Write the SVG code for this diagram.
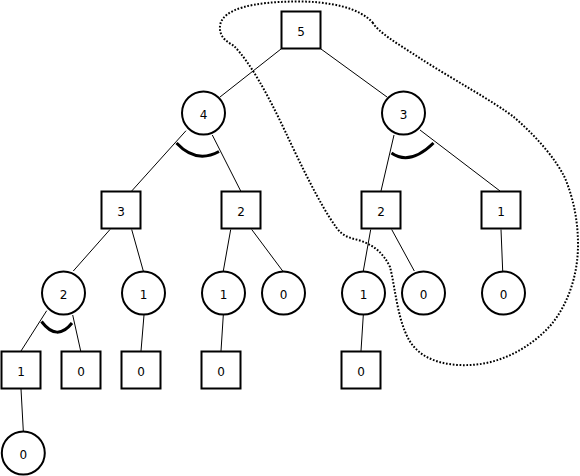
<svg xmlns="http://www.w3.org/2000/svg" width="580" height="476" viewBox="0 0 580 476">
<style>
.sq{fill:#fff;stroke:#000;stroke-width:2}
.ci{fill:#fff;stroke:#000;stroke-width:2}
.t{font-family:"DejaVu Sans",sans-serif;font-size:12px;text-anchor:middle;fill:#000}
.e{stroke:#000;stroke-width:1;fill:none}
.arc{stroke:#000;stroke-width:3;fill:none}
.dot{stroke:#000;stroke-width:2;fill:none;stroke-dasharray:1.7 1.7}
</style>
<rect width="580" height="476" fill="#fff"/>
<g id="connectors">
<line class="e" x1="281" y1="49" x2="220" y2="97"/>
<line class="e" x1="321" y1="49" x2="387" y2="97"/>
<line class="e" x1="186" y1="130.7" x2="131.7" y2="191"/>
<line class="e" x1="212.3" y1="135" x2="240.7" y2="191"/>
<line class="e" x1="394" y1="135" x2="381" y2="191"/>
<line class="e" x1="420" y1="130" x2="500" y2="191"/>
<line class="e" x1="110" y1="229.5" x2="73.3" y2="271"/>
<line class="e" x1="131.7" y1="229.5" x2="143.3" y2="271"/>
<line class="e" x1="230.7" y1="229.5" x2="223.3" y2="271"/>
<line class="e" x1="251.7" y1="229.5" x2="282.7" y2="271"/>
<line class="e" x1="370.7" y1="229.5" x2="363.3" y2="271"/>
<line class="e" x1="391.7" y1="229.5" x2="414.3" y2="271"/>
<line class="e" x1="501" y1="229.5" x2="502.7" y2="271"/>
<line class="e" x1="46.7" y1="310.7" x2="21" y2="351"/>
<line class="e" x1="72.7" y1="315" x2="80.7" y2="351"/>
<line class="e" x1="144" y1="315" x2="141" y2="351"/>
<line class="e" x1="223.3" y1="315" x2="221" y2="351"/>
<line class="e" x1="363.3" y1="315" x2="361" y2="351"/>
<line class="e" x1="21" y1="389" x2="23.3" y2="431"/>
<path class="arc" d="M176.5 143 Q196 164 219 151.5"/>
<path class="arc" d="M391.5 153 Q410 166 433.5 143"/>
<path class="arc" d="M41.5 321.5 Q57 342 72 323"/>
<path class="dot" d="M373 23 C360 8 330 1 295 1.5 C255 2 222 8 220 26 C219 38 228 42 234 46 C250 62 268 95 285 131 C300 163 320 205 336 227 C342 236 350 238 358 240 C372 244 383 252 390 267 C396 290 398 330 415 348 C428 362 450 366 470 365 C500 364 530 348 550 326 C568 305 578 275 578 245 C578 222 574 200 565 178 C556 160 540 140 515 118 C495 102 450 78 415 55 C398 44 378 32 373 23 Z"/>
</g>
<g id="n5"><rect class="sq" x="281.5" y="11.5" width="39" height="37"/><text class="t" x="301" y="36">5</text></g>
<g id="n4"><circle class="ci" cx="203.5" cy="113" r="21.5"/><text class="t" x="203.5" y="119">4</text></g>
<g id="n3"><circle class="ci" cx="403.5" cy="113" r="21.5"/><text class="t" x="403.5" y="119">3</text></g>
<g id="s3"><rect class="sq" x="101.5" y="191.5" width="39" height="37"/><text class="t" x="121" y="216">3</text></g>
<g id="s2a"><rect class="sq" x="221.5" y="191.5" width="39" height="37"/><text class="t" x="241" y="216">2</text></g>
<g id="s2b"><rect class="sq" x="361.5" y="191.5" width="39" height="37"/><text class="t" x="381" y="216">2</text></g>
<g id="s1"><rect class="sq" x="481.5" y="191.5" width="39" height="37"/><text class="t" x="501" y="216">1</text></g>
<g id="c2"><circle class="ci" cx="63.5" cy="293" r="21.5"/><text class="t" x="63.5" y="299">2</text></g>
<g id="c1a"><circle class="ci" cx="143.5" cy="293" r="21.5"/><text class="t" x="143.5" y="299">1</text></g>
<g id="c1b"><circle class="ci" cx="223.5" cy="293" r="21.5"/><text class="t" x="223.5" y="299">1</text></g>
<g id="c0a"><circle class="ci" cx="283.5" cy="293" r="21.5"/><text class="t" x="283.5" y="299">0</text></g>
<g id="c1c"><circle class="ci" cx="363.5" cy="293" r="21.5"/><text class="t" x="363.5" y="299">1</text></g>
<g id="c0b"><circle class="ci" cx="423.5" cy="293" r="21.5"/><text class="t" x="423.5" y="299">0</text></g>
<g id="c0c"><circle class="ci" cx="503.5" cy="293" r="21.5"/><text class="t" x="503.5" y="299">0</text></g>
<g id="q1"><rect class="sq" x="1.5" y="351.5" width="39" height="37"/><text class="t" x="21" y="376">1</text></g>
<g id="q0a"><rect class="sq" x="61.5" y="351.5" width="39" height="37"/><text class="t" x="81" y="376">0</text></g>
<g id="q0b"><rect class="sq" x="121.5" y="351.5" width="39" height="37"/><text class="t" x="141" y="376">0</text></g>
<g id="q0c"><rect class="sq" x="201.5" y="351.5" width="39" height="37"/><text class="t" x="221" y="376">0</text></g>
<g id="q0d"><rect class="sq" x="341.5" y="351.5" width="39" height="37"/><text class="t" x="361" y="376">0</text></g>
<g id="c0d"><circle class="ci" cx="23.3" cy="453" r="21.5"/><text class="t" x="23.3" y="459">0</text></g>
</svg>
